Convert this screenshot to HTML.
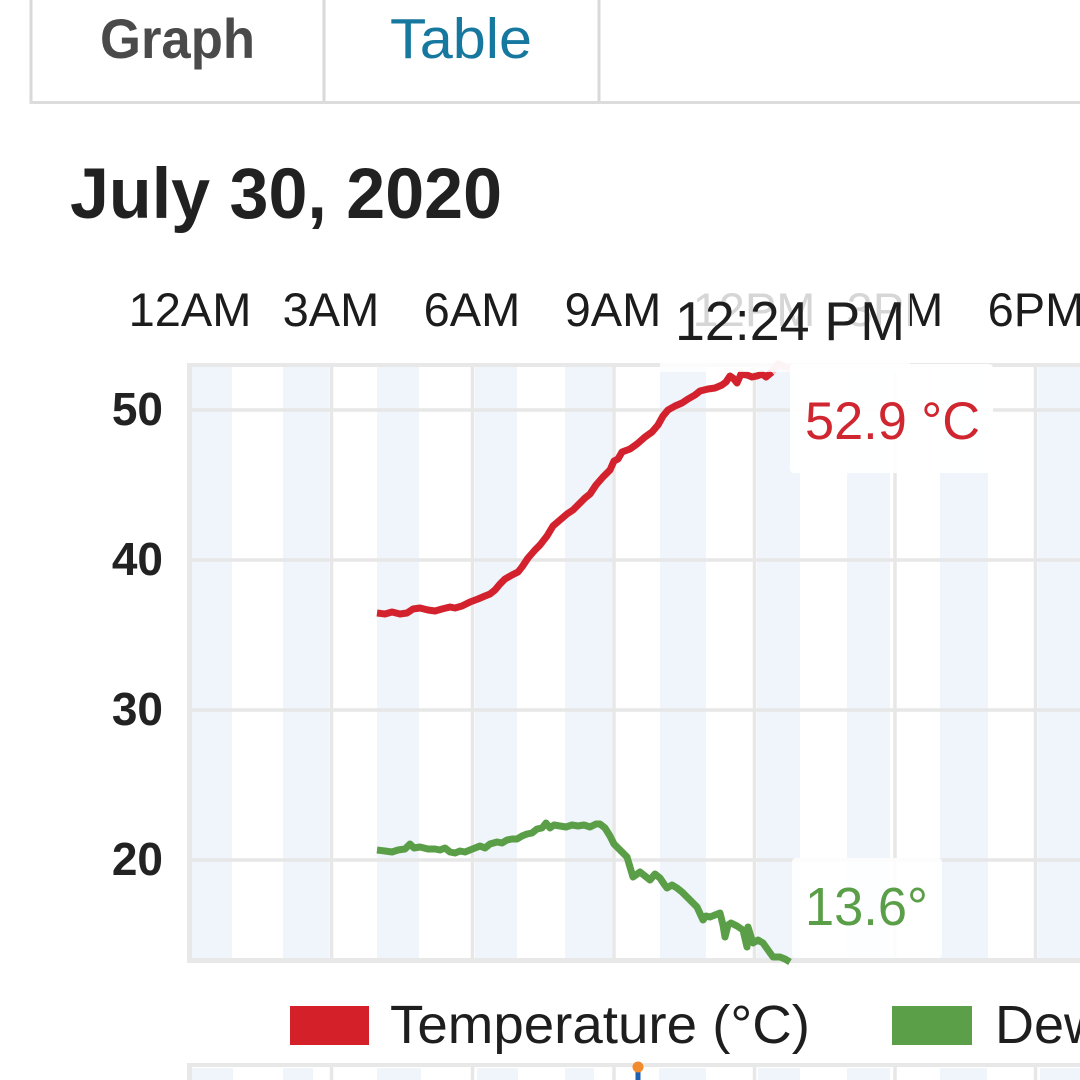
<!DOCTYPE html>
<html>
<head>
<meta charset="utf-8">
<style>
  html,body{margin:0;padding:0;background:#fff;}
  body{width:1080px;height:1080px;overflow:hidden;}
  svg{display:block;font-family:"Liberation Sans",sans-serif;}
</style>
</head>
<body>
<svg width="1080" height="1080" viewBox="0 0 1080 1080" xmlns="http://www.w3.org/2000/svg">
  <rect x="0" y="0" width="1080" height="1080" fill="#ffffff"/>

  <!-- Tabs -->
  <line x1="31" y1="0" x2="31" y2="104" stroke="#d9d9d9" stroke-width="3"/>
  <line x1="324" y1="0" x2="324" y2="104" stroke="#d9d9d9" stroke-width="3"/>
  <line x1="599" y1="0" x2="599" y2="104" stroke="#d9d9d9" stroke-width="3"/>
  <line x1="30" y1="102.5" x2="1080" y2="102.5" stroke="#dcdcdc" stroke-width="3"/>
  <text x="100" y="58" font-size="56" font-weight="bold" fill="#4a4a4a" textLength="155" lengthAdjust="spacingAndGlyphs">Graph</text>
  <text x="390" y="58" font-size="57" fill="#17789f" textLength="142" lengthAdjust="spacingAndGlyphs">Table</text>

  <!-- Title -->
  <text x="70" y="218" font-size="71" font-weight="bold" fill="#212121" textLength="432" lengthAdjust="spacingAndGlyphs">July 30, 2020</text>

  <!-- X labels -->
  <g font-size="47" fill="#1c1c1c" text-anchor="middle">
    <text x="190" y="326">12AM</text>
    <text x="331" y="326">3AM</text>
    <text x="472" y="326">6AM</text>
    <text x="613" y="326">9AM</text>
    <text x="754" y="326">12PM</text>
    <text x="895" y="326">3PM</text>
    <text x="1036" y="326">6PM</text>
  </g>

  <!-- Y labels -->
  <g font-size="46" font-weight="bold" fill="#222" text-anchor="end">
    <text x="163" y="425">50</text>
    <text x="163" y="575">40</text>
    <text x="163" y="725">30</text>
    <text x="163" y="875">20</text>
  </g>

  <!-- Plot bands -->
  <g fill="#eff5fb">
    <rect x="192" y="367" width="40" height="591"/>
    <rect x="283" y="367" width="46" height="591"/>
    <rect x="377" y="367" width="42" height="591"/>
    <rect x="475" y="367" width="42" height="591"/>
    <rect x="565" y="367" width="47" height="591"/>
    <rect x="660" y="367" width="46" height="591"/>
    <rect x="757" y="367" width="43" height="591"/>
    <rect x="847" y="367" width="43" height="591"/>
    <rect x="940" y="367" width="48" height="591"/>
    <rect x="1038" y="367" width="42" height="591"/>
  </g>

  <!-- Grid -->
  <g stroke="#e7e7e7" stroke-width="3.5">
    <line x1="190" y1="410" x2="1080" y2="410"/>
    <line x1="190" y1="560" x2="1080" y2="560"/>
    <line x1="190" y1="710" x2="1080" y2="710"/>
    <line x1="190" y1="860" x2="1080" y2="860"/>
    <line x1="331.5" y1="365" x2="331.5" y2="960"/>
    <line x1="472.5" y1="365" x2="472.5" y2="960"/>
    <line x1="614" y1="365" x2="614" y2="960"/>
    <line x1="754.5" y1="365" x2="754.5" y2="960"/>
    <line x1="895" y1="365" x2="895" y2="960"/>
    <line x1="1035.5" y1="365" x2="1035.5" y2="960"/>
  </g>
  <!-- Border -->
  <g fill="#e8e8e8">
    <rect x="187" y="363" width="893" height="4"/>
    <rect x="187" y="363" width="5" height="600"/>
    <rect x="187" y="958" width="893" height="5"/>
  </g>

  <!-- Temperature line -->
  <polyline fill="none" stroke="#d3222d" stroke-width="7" stroke-linejoin="round" stroke-linecap="butt"
    points="377,613 385,614 392,612 400,614 407,613 413,609 420,608 428,610 435,611 442,609 450,607 455,608 462,606 470,602 478,599 485,596 490,594 495,590 500,584 505,579 512,575 518,572 522,567 528,558 535,550 540,545 547,536 553,526 560,520 567,514 573,510 580,503 585,498 590,494 596,485 603,477 610,470 614,461 618,459 622,452 630,449 637,444 645,437 652,432 658,425 663,416 668,410 675,406 682,403 688,399 695,395 700,391 708,389 715,388 722,385 726,382 730,376 733,378 737,383 741,374 747,375 752,377 757,376 762,374 766,377 772,372"/>
  <polyline fill="none" stroke="#f3c3c5" stroke-width="7" stroke-linejoin="round"
    points="772,372 778,364 790,369"/>

  <!-- Dew point line -->
  <polyline fill="none" stroke="#5a9e48" stroke-width="7" stroke-linejoin="round" stroke-linecap="butt"
    points="377,850 385,851 392,852 398,850 405,849 410,844 414,848 420,847 428,849 435,849 440,850 445,848 450,852 455,853 460,851 465,852 470,850 475,848 480,846 485,848 490,844 497,842 502,843 507,840 512,839 517,839 522,836 527,834 532,833 537,829 542,828 546,823 550,828 554,825 560,826 566,827 572,825 578,826 584,825 590,827 596,824 600,824 605,828 610,836 614,844 620,850 627,857 633,877 640,872 645,876 650,880 655,874 660,878 664,884 667,888 672,885 677,888 682,892 687,897 692,902 697,907 703,920 706,916 710,917 715,915 720,913 723,925 725,937 728,925 731,923 737,926 743,930 747,947 748,927 753,943 758,940 763,943 768,950 773,957 780,957 785,959 790,962"/>

  <!-- Tooltip 12:24 PM -->
  <rect x="660" y="280" width="250" height="92" fill="#ffffff" fill-opacity="0.82"/>
  <text x="675" y="340" font-size="55" fill="#1e1e1e" textLength="230" lengthAdjust="spacingAndGlyphs">12:24 PM</text>

  <!-- Tooltip 52.9 °C -->
  <rect x="790" y="364" width="203" height="109" rx="4" fill="#ffffff" fill-opacity="0.92"/>
  <text x="805" y="439" font-size="53" fill="#cf2630" textLength="175" lengthAdjust="spacingAndGlyphs">52.9 °C</text>

  <!-- Tooltip 13.6° -->
  <rect x="792" y="858" width="150" height="100" rx="4" fill="#ffffff" fill-opacity="0.85"/>
  <text x="805" y="925" font-size="54" fill="#5a9e48" textLength="123" lengthAdjust="spacingAndGlyphs">13.6°</text>

  <!-- Legend -->
  <rect x="290" y="1006" width="79" height="39" fill="#d42029"/>
  <text x="390" y="1043" font-size="54" fill="#1e1e1e" textLength="420" lengthAdjust="spacingAndGlyphs">Temperature (°C)</text>
  <rect x="892" y="1006" width="80" height="39" fill="#5b9f49"/>
  <text x="995" y="1043" font-size="54" fill="#1e1e1e">Dew Point (°C)</text>

  <!-- Second chart (bottom strip) -->
  <g fill="#eff5fb">
    <rect x="192" y="1068" width="41" height="12"/>
    <rect x="283" y="1068" width="30" height="12"/>
    <rect x="377" y="1068" width="44" height="12"/>
    <rect x="477" y="1068" width="41" height="12"/>
    <rect x="565" y="1068" width="29" height="12"/>
    <rect x="659" y="1068" width="47" height="12"/>
    <rect x="758" y="1068" width="42" height="12"/>
    <rect x="847" y="1068" width="43" height="12"/>
    <rect x="940" y="1068" width="47" height="12"/>
    <rect x="1040" y="1068" width="40" height="12"/>
  </g>
  <g stroke="#e7e7e7" stroke-width="3.5">
    <line x1="331.5" y1="1065" x2="331.5" y2="1080"/>
    <line x1="472.5" y1="1065" x2="472.5" y2="1080"/>
    <line x1="614" y1="1065" x2="614" y2="1080"/>
    <line x1="754.5" y1="1065" x2="754.5" y2="1080"/>
    <line x1="895" y1="1065" x2="895" y2="1080"/>
    <line x1="1035.5" y1="1065" x2="1035.5" y2="1080"/>
  </g>
  <g fill="#e8e8e8">
    <rect x="187" y="1063" width="893" height="4"/>
    <rect x="187" y="1063" width="5" height="17"/>
  </g>
  <line x1="638" y1="1070" x2="638" y2="1080" stroke="#1f5fb0" stroke-width="5"/>
  <circle cx="638" cy="1067" r="5.5" fill="#f28a2e"/>
</svg>
</body>
</html>
